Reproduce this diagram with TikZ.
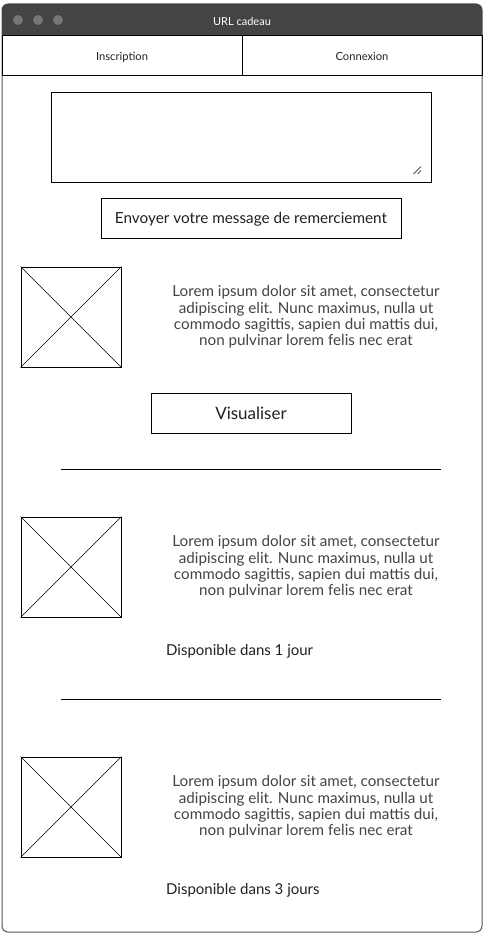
\documentclass[tikz,border=0pt]{standalone}
\usepackage{fontspec}
\setmainfont{Lato}
\definecolor{titlebg}{HTML}{444444}
\definecolor{dotc}{HTML}{777777}
\definecolor{framec}{HTML}{555555}
\definecolor{loremc}{HTML}{444444}
\definecolor{txtc}{HTML}{222222}
\begin{document}
\begin{tikzpicture}[x=1pt,y=-1pt,
  tab/.style={draw=black,line width=1pt,minimum width=240pt,minimum height=40pt,inner sep=0pt,text depth=0pt,font=\fontsize{11.2}{13}\selectfont,text=txtc},
  boxbtn/.style={draw=black,line width=0.8pt,inner sep=0pt,text depth=0pt,text=txtc},
  imgbox/.style={draw=black,line width=0.8pt,minimum width=100pt,minimum height=100pt,inner sep=0pt},
  cross/.style={line width=0.5pt},
  lorem/.style={align=center,text=loremc,font=\fontsize{15.2}{16.3}\selectfont,inner sep=0pt},
  avail/.style={anchor=west,text=txtc,font=\fontsize{15}{17}\selectfont,inner sep=0pt},
  sep/.style={line width=0.8pt}]
\useasboundingbox (0,0) rectangle (489,936);
\fill[white] (0,0) rectangle (489,936);
% window
\draw[framec,line width=1pt,rounded corners=6pt,fill=white] (2,4) rectangle (482,932);
\fill[titlebg] (2,36) [rounded corners=6pt] -- (2,4) -- (482,4) [sharp corners] -- (482,36) -- cycle;
\foreach \i/\x in {1/18,2/38,3/58} \fill[dotc] (\x,20) circle (5pt);
\node[text=white,text depth=0pt,font=\fontsize{11}{13}\selectfont] (title) at (242,21) {URL cadeau};
% tabs
\node[tab] (insc) at (122,56) {Inscription};
\node[tab] (conn) at (362,56) {Connexion};
% textarea
\node[draw=black,line width=0.8pt,minimum width=380pt,minimum height=90pt,inner sep=0pt] (msg) at (241,137) {};
\draw[line width=0.5pt] (413.5,174) -- (421,166.5) (417.5,174) -- (421,170.5);
% send button
\node[boxbtn,minimum width=300pt,minimum height=40pt,font=\fontsize{15.3}{17}\selectfont] (send) at (251,218) {Envoyer votre message de remerciement};
% item 1
\node[imgbox] (img1) at (71,317) {};
\draw[cross] (img1.north west) -- (img1.south east) (img1.north east) -- (img1.south west);
\node[lorem] (txt1) at (306,317) {Lorem ipsum dolor sit amet, consectetur\\adipiscing elit. Nunc maximus, nulla ut\\commodo sagittis, sapien dui mattis dui,\\non pulvinar lorem felis nec erat};
\node[boxbtn,minimum width=200pt,minimum height=40pt,font=\fontsize{17}{19}\selectfont] (vis) at (251,413) {Visualiser};
\coordinate (s1a) at (61,469);
\coordinate (s1b) at (441,469);
\draw[sep] (s1a) -- (s1b);
% item 2
\node[imgbox] (img2) at (71,567) {};
\draw[cross] (img2.north west) -- (img2.south east) (img2.north east) -- (img2.south west);
\node[lorem] (txt2) at (306,567) {Lorem ipsum dolor sit amet, consectetur\\adipiscing elit. Nunc maximus, nulla ut\\commodo sagittis, sapien dui mattis dui,\\non pulvinar lorem felis nec erat};
\node[avail] (av1) at (166,651) {Disponible dans 1 jour};
\coordinate (s2a) at (61,699);
\coordinate (s2b) at (441,699);
\draw[sep] (s2a) -- (s2b);
% item 3
\node[imgbox] (img3) at (71,807) {};
\draw[cross] (img3.north west) -- (img3.south east) (img3.north east) -- (img3.south west);
\node[lorem] (txt3) at (306,807) {Lorem ipsum dolor sit amet, consectetur\\adipiscing elit. Nunc maximus, nulla ut\\commodo sagittis, sapien dui mattis dui,\\non pulvinar lorem felis nec erat};
\node[avail] (av3) at (166,890) {Disponible dans 3 jours};
\end{tikzpicture}
\end{document}
